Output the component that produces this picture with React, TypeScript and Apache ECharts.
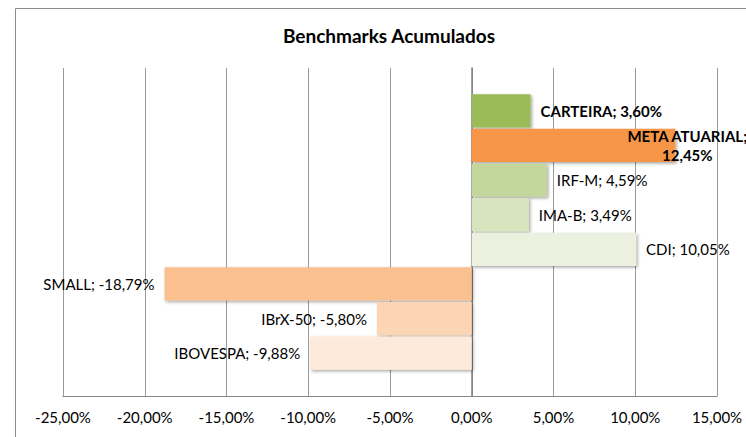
import React, { useEffect, useRef } from "react";
import * as echarts from "echarts";

const chartTitle = "Benchmarks Acumulados";
const seriesNames = ["CARTEIRA", "META ATUARIAL", "IRF-M", "IMA-B", "CDI", "SMALL", "IBrX-50", "IBOVESPA"];
const seriesValues = [3.6, 12.45, 4.59, 3.49, 10.05, -18.79, -5.8, -9.88];
const seriesColors = ["#9BBB59", "#F79646", "#C3D69B", "#D7E4BD", "#EBF1DE", "#FAC090", "#FCD5B5", "#FDEADA"];
const axisMin = -25;
const axisMax = 15;
const axisStep = 5;

const FONT = "Lato";

const fmt = (v: number) => v.toFixed(2).replace(".", ",") + "%";

export default function App() {
  const ref = useRef<HTMLDivElement>(null);
  useEffect(() => {
    if (!ref.current) return;
    const chart = echarts.init(ref.current, undefined, { renderer: "svg" });
    const series = seriesNames.map((name, i) => {
      const v = seriesValues[i];
      const bold = i <= 1;
      const label: any = {
        show: true,
        position: v >= 0 ? "right" : "left",
        distance: 10,
        color: "#000",
        fontFamily: FONT,
        fontSize: 15,
        fontWeight: bold ? "bold" : "normal",
        formatter: (p: any) => `${p.seriesName}; ${fmt(p.value)}`,
      };
      if (i === 1) {
        label.formatter = (p: any) => `${p.seriesName};\n${fmt(p.value)}`;
        label.distance = 0;
        label.align = "center";
        label.offset = [12, 0];
        label.lineHeight = 19;
      }
      return {
        type: "bar",
        name,
        data: [v],
        barCategoryGap: "16%",
        barGap: "4%",
        itemStyle: {
          color: seriesColors[i],
          shadowColor: "rgba(0,0,0,0.35)",
          shadowBlur: 3,
          shadowOffsetX: 1.5,
          shadowOffsetY: 1.5,
        },
        label,
      };
    });
    chart.setOption({
      animation: false,
      backgroundColor: "#fff",
      grid: { left: 63, right: 29, top: 68, bottom: 41, containLabel: false },
      xAxis: {
        type: "value",
        min: axisMin,
        max: axisMax,
        interval: axisStep,
        axisLine: { show: true, lineStyle: { color: "#868686", width: 1 } },
        axisTick: { show: false },
        splitLine: { show: true, lineStyle: { color: "#9a9a9a", width: 1 } },
        axisLabel: {
          color: "#000",
          fontFamily: FONT,
          fontSize: 15,
          margin: 13,
          formatter: (v: number) => fmt(v),
        },
      },
      yAxis: {
        type: "category",
        data: [""],
        axisLine: { show: true, onZero: true, lineStyle: { color: "#808080", width: 1.5 } },
        axisTick: { show: false },
        axisLabel: { show: false },
        splitLine: { show: false },
      },
      graphic: [
        {
          type: "rect",
          shape: { x: 15.5, y: 8.5, width: 900, height: 600 },
          style: { fill: "none", stroke: "#8c8c8c", lineWidth: 1 },
          silent: true,
        },
        {
          type: "text",
          x: 389,
          y: 35,
          style: {
            text: chartTitle,
            fontFamily: FONT,
            fontSize: 19,
            fontWeight: "bold",
            fill: "#000",
            textAlign: "center",
            textVerticalAlign: "middle",
          },
        },
      ],
      series,
    });
    return () => chart.dispose();
  }, []);
  return <div ref={ref} style={{ position: "absolute", left: 0, top: 0, width: 746, height: 437 }} />;
}
